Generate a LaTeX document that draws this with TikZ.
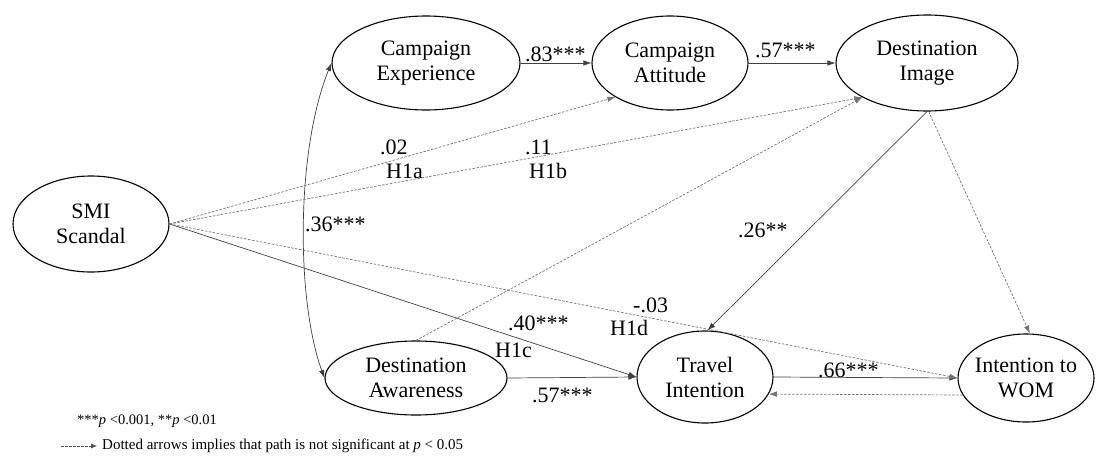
\documentclass[tikz,border=0pt]{standalone}
\usepackage{fontspec}
\setmainfont{Liberation Serif}
\usetikzlibrary{shapes.geometric,arrows.meta}
\begin{document}
\begin{tikzpicture}[x=1pt,y=-1pt,
  >={Latex[length=8pt,width=5.5pt]},
  latent/.style={ellipse,draw=black,line width=1.1pt,inner xsep=-6pt,inner ysep=0pt,
    align=center,font=\fontsize{22}{25}\selectfont},
  coef/.style={anchor=west,inner sep=0pt,font=\fontsize{22}{25}\selectfont},
  sig/.style={draw=black!75,line width=0.7pt,->},
  nonsig/.style={draw=black!55,line width=0.7pt,dash pattern=on 2.5pt off 1.5pt,->},
  note/.style={anchor=west,inner ysep=0pt,font=\fontsize{15}{17}\selectfont}]
\useasboundingbox (0,0) rectangle (1099,455);

% latent constructs
\node[latent,minimum width=156pt,minimum height=96pt] (smi) at (91,224) {SMI\\Scandal};
\node[latent,minimum width=188pt,minimum height=94pt] (ce) at (426,63) {Campaign\\Experience};
\node[latent,minimum width=156pt,minimum height=94pt] (ca) at (670,63) {Campaign\\Attitude};
\node[latent,minimum width=182pt,minimum height=96pt] (di) at (927,63) {Destination\\Image};
\node[latent,minimum width=182pt,minimum height=74pt] (da) at (416,378) {Destination\\Awareness};
\node[latent,minimum width=136pt,minimum height=92pt] (ti) at (705,377) {Travel\\Intention};
\node[latent,minimum width=136pt,minimum height=88pt] (wom) at (1026,378) {Intention to\\WOM};

% significant paths
\draw[sig] (ce.east) -- (ca.west);
\draw[sig] (ca.east) -- (di.west);
\draw[sig] (smi.east) -- (ti.west);
\draw[sig] (da.east) -- (ti.west);
\draw[sig] (ti.east) -- (wom.west);
\draw[sig] (di.south) -- (ti.87);
\draw[sig,<->] (ce.west) .. controls (296,150) and (296,300) .. (da.west);

% non-significant paths
\draw[nonsig] (smi.east) -- (ca.212);
\draw[nonsig] (smi.east) -- (di.208);
\draw[nonsig] (da.north) -- (di.208);
\draw[nonsig] (smi.east) -- (wom.west);
\draw[nonsig] (wom.195) -- (ti.345);
\draw[nonsig] (di.-88) -- (wom.85);

% path coefficients and hypotheses
\node[coef] (c83) at (525,54) {.83***};
\node[coef] (c57a) at (755,50) {.57***};
\node[coef] (c02) at (380,147) {.02};
\node[coef] (h1a) at (386,171) {H1a};
\node[coef] (c11) at (525,147) {.11};
\node[coef] (h1b) at (529,171) {H1b};
\node[coef] (c36) at (305,224) {.36***};
\node[coef] (c26) at (738,230) {.26**};
\node[coef] (c03) at (633,305) {-.03};
\node[coef] (h1d) at (610,328) {H1d};
\node[coef] (c40) at (508,323) {.40***};
\node[coef] (h1c) at (495,350) {H1c};
\node[coef] (c57b) at (532,395) {.57***};
\node[coef] (c66) at (818,370) {.66***};

% legend
\node[note,inner xsep=0pt,font=\fontsize{14.5}{17}\selectfont] (n1) at (77,421) {***\textit{p} <0.001, **\textit{p} <0.01};
\node[note,inner xsep=5pt] (n2) at (97,446) {Dotted arrows implies that path is not significant at \textit{p} < 0.05};
\coordinate (leg) at (61,446);
\draw[nonsig,draw=black!70,>={Latex[length=6pt,width=5pt]}] (leg) -- (n2.west);
\end{tikzpicture}
\end{document}
